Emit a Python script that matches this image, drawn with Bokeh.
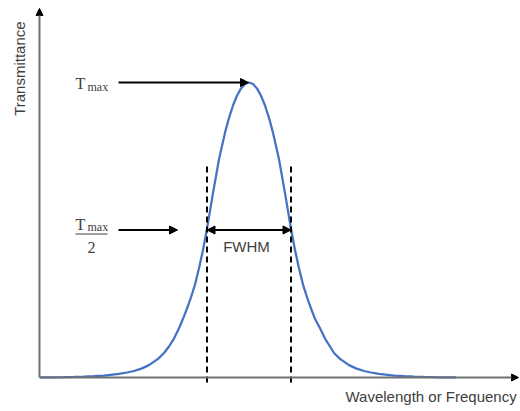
from bokeh.plotting import figure
from bokeh.models import Range1d, Arrow, NormalHead, ColumnDataSource
from bokeh.core.properties import value
from bokeh.embed import file_html
from bokeh.resources import INLINE
import math

# Transmission band profile (arbitrary wavelength units, transmittance normalised to T_max)
wavelength = [0, 14, 24, 34, 44, 54, 64, 79, 87, 94, 102, 109, 118, 124, 129, 134,
              139, 143, 147, 151, 155, 159, 163, 167, 173, 179, 185, 189, 193, 197,
              201, 205, 209,
              213, 217, 221, 225, 229, 233, 239, 245, 251, 255, 259, 263, 267, 271,
              275, 280, 285, 290, 294, 300, 309, 316, 324, 331, 339, 354, 364, 374,
              384, 394, 404, 416]
transmittance = [0.0003, 0.0006, 0.0010, 0.0017, 0.0027, 0.0043, 0.0065, 0.012,
                 0.017, 0.022, 0.031, 0.042, 0.063, 0.083, 0.105, 0.132, 0.167,
                 0.199, 0.234, 0.272, 0.315, 0.370, 0.432, 0.504, 0.625, 0.740,
                 0.830, 0.880, 0.922, 0.955, 0.980, 0.995, 1.000,
                 0.995, 0.980, 0.955, 0.922, 0.880, 0.830, 0.740, 0.625, 0.504,
                 0.432, 0.370, 0.315, 0.272, 0.234, 0.199, 0.167, 0.132, 0.105,
                 0.083, 0.063, 0.042, 0.031, 0.022, 0.017, 0.012, 0.0065, 0.0043,
                 0.0027, 0.0017, 0.0010, 0.0006, 0.0003]

# Half-maximum crossings of the band
fwhm_left = 167
fwhm_right = 251

t_max = max(transmittance)
peak_x = wavelength[transmittance.index(t_max)]
half = t_max / 2

INK = "#404040"
SANS = value("Liberation Sans")
SERIF = value("Liberation Serif")

p = figure(width=520, height=411, output_backend="svg", toolbar_location=None,
           x_range=Range1d(-39.5, 480.5), y_range=Range1d(-34 / 295, 377 / 295),
           min_border=0)
p.axis.visible = False
p.grid.visible = False
p.outline_line_color = None
p.background_fill_color = "white"
p.border_fill_color = "white"

# Axes drawn as arrows
ax_head = dict(size=7, fill_color="black", line_color="black", line_width=1)
p.add_layout(Arrow(x_start=-0.5, y_start=0, x_end=-0.5, y_end=1.251,
                   line_color="#707070", line_width=2, end=NormalHead(**ax_head)))
p.add_layout(Arrow(x_start=-0.5, y_start=0, x_end=478.5, y_end=0,
                   line_color="#707070", line_width=2, end=NormalHead(**ax_head)))

# Band profile
src = ColumnDataSource(dict(x=wavelength, y=transmittance))
p.line("x", "y", source=src, line_color="#4472C4", line_width=2.25)

# Dashed markers at the half-maximum crossings
p.segment(x0=[fwhm_left, fwhm_right], y0=[0.715, 0.715],
          x1=[fwhm_left, fwhm_right], y1=[-0.024, -0.024],
          line_color="black", line_width=2, line_dash="6 4")

head = dict(size=8, fill_color="black", line_color="black", line_width=1)

# T_max pointer
p.add_layout(Arrow(x_start=78.5, y_start=t_max, x_end=peak_x - 0.5, y_end=t_max,
                   line_color="black", line_width=2, end=NormalHead(**head)))
# T_max / 2 pointer
p.add_layout(Arrow(x_start=78.5, y_start=half, x_end=137.5, y_end=half,
                   line_color="black", line_width=2, end=NormalHead(**head)))
# FWHM span
p.add_layout(Arrow(x_start=fwhm_left, y_start=half, x_end=fwhm_right, y_end=half,
                   line_color="black", line_width=2,
                   start=NormalHead(**head), end=NormalHead(**head)))

# T_max label
p.text(x=[35.5], y=[0.997], text=["T"], text_font=SERIF, text_font_size="16px",
       text_color=INK, text_baseline="alphabetic", text_align="left")
p.text(x=[47.5], y=[0.986], text=["max"], text_font=SERIF, text_font_size="12px",
       text_color=INK, text_baseline="alphabetic", text_align="left")

# T_max / 2 label
p.text(x=[35.5], y=[0.519], text=["T"], text_font=SERIF, text_font_size="16px",
       text_color=INK, text_baseline="alphabetic", text_align="left")
p.text(x=[47.5], y=[0.5085], text=["max"], text_font=SERIF, text_font_size="12px",
       text_color=INK, text_baseline="alphabetic", text_align="left")
p.segment(x0=[35.5], y0=[0.4864], x1=[67.5], y1=[0.4864], line_color=INK, line_width=1.2)
p.text(x=[51.5], y=[0.4407], text=["2"], text_font=SERIF, text_font_size="16px",
       text_color=INK, text_baseline="alphabetic", text_align="center")

# FWHM label
p.text(x=[206.5], y=[0.444], text=["FWHM"], text_font=SANS, text_font_size="15px",
       text_color=INK, text_baseline="middle", text_align="center")

# Axis titles
p.text(x=[-21], y=[1.047], text=["Transmittance"], angle=math.pi / 2,
       text_font=SANS, text_font_size="15px", text_color=INK,
       text_baseline="middle", text_align="center")
p.text(x=[305.5], y=[-0.0644], text=["Wavelength or Frequency"],
       text_font=SANS, text_font_size="15px", text_color=INK,
       text_baseline="middle", text_align="left")

open("out.html", "w").write(file_html(p, INLINE))
